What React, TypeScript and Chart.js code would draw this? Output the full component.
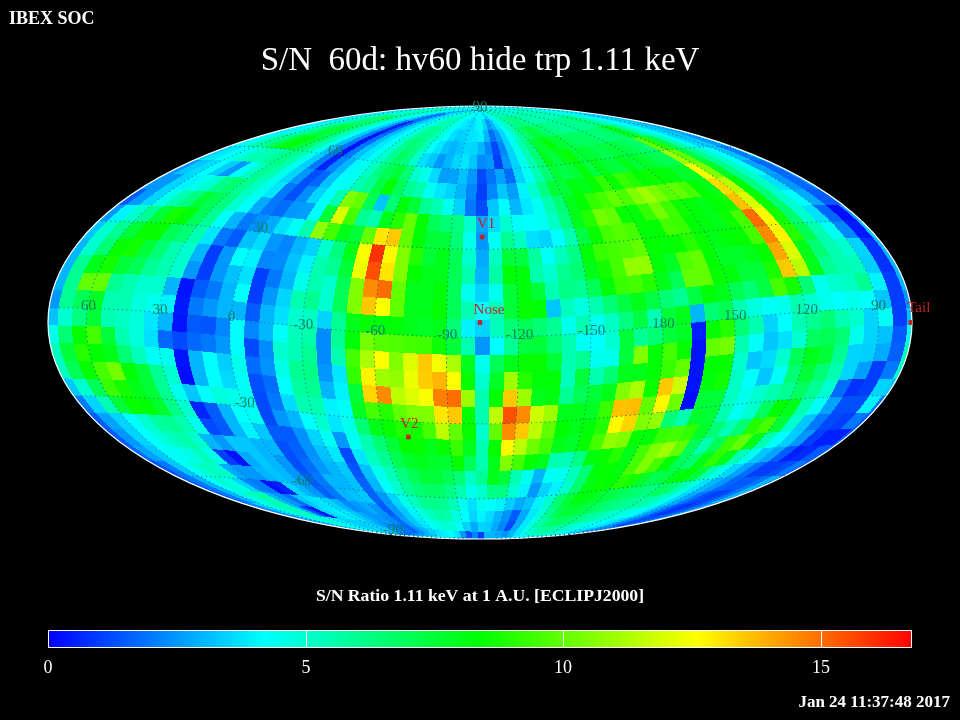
import React, { useEffect, useRef } from "react";
import { Chart, registerables } from "chart.js";
Chart.register(...registerables);

// S/N per 6 x 6 degree ecliptic bin. Each row runs from the left edge of the map to its right edge.
const lat87 = [3.5,3.6,3.8,4,4.2,4.5,4.7,4.8,4.8,4.6,4.4,4,3.6,3,3,3.4,3.8,4.1,4.4,4.6,4.8,4.9,4.9,4.7,4.5,4.3,4.1,4,4,4.2, 4.5,4.2,3.6,3.6,4,4.4,4.8,5,5.2,5.4,5.5,5.4,5.3,5.2,5.1,5,5,5,4.9,4.9,4.9,4.8,4.8,4.7,4.5,4.3,4.1,3.9,3.7,3.6];
const lat81 = [3.4,3.6,4,4.4,4.8,5.2,5.5,5.5,5.3,4.8,4.4,3.8,3,1.8,2,3,3.6,4,4.5,5,5.3,5.5,5.3,4.8,4.4,4,3.8,3.6,3.6,4, 4.5,3.5,2.5,3,3.8,4.5,5,5.5,6,6,6.5,6.2,6,5.8,5.7,5.5,5.5,5.5,5.5,5.5,5.5,5.5,5.5,5.3,5,4.7,4.3,4,3.8,3.7];
const lat75 = [3.6,3.8,4.4,5,5.6,6.3,6.6,6.6,6,5,4.4,3.5,2.3,.5,1.6,3,3.7,4.2,4.8,5.6,6,6,5.5,4.8,4.2,3.7,3.4,3.5,3.7,3.8, 4,3,1.8,2.5,3.5,4.3,5,6,6.5,7,7.5,7,6.5,6.5,6.2,6,6,6,6,6,6,6.2,6.5,6.2,5.5,4.8,4.2,3.8,3.5,3.2];
const lat69 = [3.8,4,4.6,5.4,6.3,7.2,7.6,7.2,6.3,5.2,4.4,3.3,2.1,.3,1.8,3.1,3.8,4.3,5,6,6.5,6.2,5.3,4.3,3.8,3.2,3,3.3,3.6,3.5, 3,2.2,1.2,2.2,3.5,4.5,5.5,6.3,7.5,7.7,8.4,7.6,7.5,7.2,6.8,6.8,6.8,6.7,6.5,6.5,6.4,6.7,8,7.5,6,5,4.2,3.7,3.3,2.8];
const lat63 = [4.3,4.5,5.5,6,7,8,8.3,7.5,6.5,5.5,4.5,3.2,2,.3,2,3.2,3.8,4.4,5,6,6.8,6.3,5,3.7,3.3,2.5,3,3.5,3.8,3.3, 2.3,2.5,1,2.5,3.5,4.5,5.5,6.5,8,7.3,8,8.5,7.5,7.6,7.5,7,7.3,7.5,7.3,7,6.8,6.5,10,9,7,5.5,4.5,3.5,3.3,2.5];
const lat57 = [3.5,3.8,4.3,4.5,5.2,5.5,5.5,6,6.2,5.5,4.5,3.4,2,.6,2.2,3,4.1,4.5,5.2,6.3,7,7.5,6.5,5,4.5,3.6,2.6,2.7,3.2,2.5, 1.2,1.9,2.7,1.8,3.5,4.3,5.5,6.5,7.5,7.2,7.5,8.2,7.5,8,7.6,7.3,8,7.6,7.8,7.4,7,7,11,10,7.3,6,5,4.2,3.2,2];
const lat51 = [2.5,3.3,3.6,4.2,3.4,2.5,4.2,5.2,6,5.5,4.5,3.5,2.5,1.3,1.7,3.2,4.2,4.5,5.5,6,7.3,8.5,7,6,5.5,4.4,3.8,3.5,3,2.2, 1,2.2,3.3,2.6,4,5,6.2,7.5,7.5,8.2,8,8.5,9.2,8.5,9.3,9,8.3,8.6,8.3,8.2,7.6,7.8,12.5,10.5,7.8,6.2,5.2,4.3,2.7,1.7];
const lat45 = [2.5,2.5,3.5,4,4.5,5,6.2,6.5,6,5.2,4.5,3.8,2,1.3,2.3,3.5,4.2,5.5,10.5,10,7,3.3,6.5,8.2,7.5,6,5.5,4.5,3.5,2, 1.2,3.3,4.2,3,3.8,4.4,5.5,6.5,8,8.4,9.2,9.5,10,9.6,10.5,11,10.4,9.8,10,9.5,8.4,8,13.2,11.5,8.3,6.3,5.2,3.7,2.5,1.7];
const lat39 = [1.5,2.5,3.5,4.5,5.5,6.3,7.5,7,6.3,5,4.2,2.8,2,1.8,2.5,2.6,4.3,7.5,12,9.5,6,5.5,8,9,10,8.5,7,6.5,6.3,5, 2.8,3.6,5,4.3,4.2,4.4,5.2,6.3,8,9,10.3,10,8.5,8.3,9.3,10.3,9.4,8.6,8.3,8,8.3,8.6,13.6,12,8.5,6.5,5,4.2,2.8,1.5];
const lat33 = [2.5,4,5,6,7.5,8.7,8.3,7,6,4.3,3,2,2.4,2.8,3.7,4.3,5.5,10.7,9.5,8,7.5,10,13,13.5,10,8.3,7.5,7.5,6.5,4.5, 2.5,4.3,6,5.2,3.7,3.5,4.2,5.5,7.3,8.5,9.5,9.8,9.5,8.3,8.4,9.5,9.3,8.3,8.2,8,8.6,9.5,15,12.7,8.7,6.6,5,3.7,1.7,.2];
const lat27 = [3.3,5,6,7.5,8.5,8.5,7,6.5,5.5,3.8,2,1.5,3.2,3.6,2.5,2.2,3,3.5,5,6.3,8,12.5,16,12.7,10.5,9,7.5,8,7,5, 2.8,5.2,7.5,7.3,5.8,4.3,5.3,6.2,8.3,9.3,9.5,9.6,10,8.5,8.3,8.5,9,8.5,8,8.3,8.5,9.5,14.5,12.8,9,7,5.5,4.4,2.2,.4];
const lat21 = [3,5,6.5,8.5,8.7,7.5,6.5,5.5,5,3,1,2.5,4.2,4,2.2,2.3,3.2,4,5.5,6,7.5,12.3,15.5,13,10.5,8.5,8,8,7,5.5, 3,5.7,8.3,8.2,5.6,5,6,6.5,8,8.7,9.5,10.8,10.8,8.3,7.8,9.7,10,8.4,7.8,7.7,8,8.4,14,12,8,6.5,5.5,5,3.5,.8];
const lat15 = [3,6,8,8.7,7.5,7,6,5.5,5,2.5,1,2.5,3.2,3.7,1,2,3,4.5,5.5,5,7,10.5,14.5,15,10,8,8,8.3,7,4.5, 3.5,4.5,7.5,8.2,7.5,5.5,6.2,6,7,8.3,9.3,9.5,9,8,7,10,10,8.5,8.2,7.5,7.5,8.8,13.5,11.5,8,6,5.5,5.3,3.4,.8];
const lat9 = [3,6,10,10,6,5.5,5,5,3,.3,1.5,2,3,4.2,1,2.5,3.5,5.5,6,5,7,10.5,13.5,12.6,10,8,8,8.5,7,5.5, 4.3,5.5,7.5,8.5,8.3,3.3,5.3,4.7,5.5,6.5,7.3,8,7.3,6.5,6,7.3,8.3,8,7,6.5,7.3,9.5,8.7,6.5,4.5,5,5.2,6,4,1];
const lat3 = [2.5,6,7,7.8,5.5,5.5,4.8,4.5,4,.4,2,2.5,3,3,1.5,3,3.7,5,5.2,3.5,6,8,8.5,8.3,8.3,8,7.8,8,6.5,4, 3.5,5.3,6.5,7,6.5,6,4.5,5.5,4.5,5.2,6.3,7.3,5.5,7.5,8,3,6.5,7,5.5,4.7,4.3,4.5,5.5,5,4.5,4.2,4.5,4.2,3.3,1];
const latM3 = [3.2,5,6.3,7.5,5.5,5.2,4.8,3.8,3,.3,1.5,1.4,2.2,4.2,2.2,3,4.3,5.3,5.6,2.3,6,8.3,10.3,9.8,9.7,9.5,9.4,8.6,7.5,5.5, 2.5,4.2,6,7.3,7.5,6.5,5.5,4.3,4.2,5,7.5,6,6.5,7.5,7.8,.5,8.5,9,6.5,5.5,3.5,4.2,5.5,6,6.5,5.5,5,3.5,4.3,1];
const latM9 = [4.5,6.5,8.5,9.5,7.5,5.5,4.8,3.7,1.7,1.2,1.7,2,2.5,4.2,1.2,2.3,5,5.4,6,2.3,5.5,9.5,11.2,12.6,10.5,12,13.5,12.4,11.2,8, 4.5,7,8,8.5,8.5,7.5,5.5,6,4.5,4.5,7.5,10.5,8.3,9.5,8.5,.3,10,10.3,5.5,4.3,3.3,3.7,5,6.8,7,6.5,4.5,3.5,3.2,1.5];
const latM15 = [5.3,7.5,9,8.4,8,6.5,5.3,4.3,4.5,.3,3,4.2,3.4,4.5,1.8,2.4,4.6,6,6.2,2.5,3.8,9.2,12.8,11,10.8,12.3,13.4,13.8,12.6,8.5, 5,7.8,11,9,8.3,8.3,5.3,7.5,5.5,6.5,8,8,8.3,9.3,10,.3,8.4,8.5,5,3.3,3.6,5,7,8,7.5,6,3.5,3.4,2.8,1.6];
const latM21 = [5.2,7,8.5,9.5,10.3,8.3,7.5,6,5,.2,3,4.2,3.6,4.3,1.3,1.8,4.2,5.8,6,3,4,7.5,13.3,14.5,11.5,12,12.5,14.7,15,11, 5.5,8.5,13.5,11,8,8.2,6,7,7.5,8,10.5,11.2,8.6,13.5,11.8,.3,8.2,8.7,5.2,4.2,3.3,4.3,6.5,7.5,6.5,5.5,3.5,2.6,1,2];
const latM27 = [3.3,5,7,9.3,8.7,8,7.5,6,4.5,3.3,4.3,4.8,4.6,4.4,1.2,2,3.6,5.5,5.5,4,4.3,7.8,9.5,9,10,10.5,10.5,13,13.5,8.5, 5.5,11.5,15.5,14.5,11.8,11,8,8,7.8,9.3,13.6,13.7,10,12.7,10.2,.2,7.5,7.5,5.2,4.5,5,5.5,6,6.8,6,5,1.8,.8,1,3.5];
const latM33 = [2,3.5,5.5,7.5,8.5,8.4,7.7,6.2,5,.6,1.5,3,4.2,4.4,1.2,2.5,3,4.2,5,3.8,4.5,6.5,8,8.5,9,8.7,9.5,11.5,10,8.5, 5,10,14.5,13.5,11.5,10,8.4,8,8.3,9,12.7,13.3,10.5,10.8,6.5,5.5,7.7,7.5,5.5,4.4,5,6.8,8.4,8,5.5,4.3,2.7,1.3,1.3,4];
const latM39 = [1.5,2.7,3.5,4.3,5,5.8,6,5.5,4.5,1.2,1.5,3,4,3.3,1.5,1.5,2.4,3.5,4.4,2.5,4.4,5.5,6.5,7.5,8.4,8.5,8,8.5,9.3,8, 5.5,8.5,12.7,11.5,10.2,9.5,8,7.7,8.5,9.5,10.8,10.5,8.5,8.3,9.3,9.5,9.2,7.7,6.5,5.5,6.5,9,9.5,7.5,5,3.3,2,1.2,1,2];
const latM45 = [1.5,2.5,3.5,4.2,4.8,5.3,5.6,5,3,2.5,3.3,3.3,3,3,1.3,1.6,2.4,3.2,3.8,1.2,3.8,5.2,6,7,7.7,8,7.7,7.6,8.5,7, 5.5,8,10.5,9.5,8.5,8,5.5,5.4,6.2,8.2,8.5,9,8,9.5,10.5,11,10,7,5.5,7,9.3,10,8,5.5,4.2,3.4,2.5,1,.5,.5];
const latM51 = [1.7,2.7,3.3,4.3,4.4,4.7,5.3,4.5,1,.3,2.8,3.3,3,2.5,1.3,1.8,2.5,3,3.3,1.4,3.2,4.5,5.3,6.3,7,7.5,7.5,7,6.5,5.2, 6,8,7.5,5.5,4.5,3,4.3,4.5,5.3,6.5,8.3,8.5,8.2,9.5,10.5,9.5,8.3,7,6.5,8,9.2,8,5.5,4.5,3.3,2.7,1.5,.5,.7,1.5];
const latM57 = [1.3,2,3.3,4.3,5,5.3,5,2.8,2.5,2.5,3,3.2,3,2.5,1.5,2,3,3,3.2,1.6,3,4.2,5,6,6.5,6.7,6.7,6.2,5.5,4.5, 5,6.2,6.3,5,4,2.5,3.5,4,5,6.5,8,8.5,8.4,9,8.7,7.7,7,7.3,8,8.3,7.5,5.5,4.5,3.5,2.7,1.8,1,1,1.3,2];
const latM63 = [1.5,2,3,4.2,5,4.5,3.5,2.2,2,.3,.6,3.5,3,2.5,1.6,2,3,3.2,3.3,1.6,2.5,3.5,4.6,5.3,6,6.2,6,5.4,4.5,3.7, 4.5,4.2,4,3.4,2.8,3.2,4,5,6.5,7.5,8.2,8,7.7,7.3,7,6.7,6.5,6.3,6.8,6.5,5.5,4.7,3.7,3,2.5,1.7,1.5,1.5,2,3];
const latM69 = [1.5,2,3,4,5,5.5,5.5,3,2.5,1.8,3.3,3.7,3.8,3.5,3,2.3,2.5,2.8,2.5,1.5,2.5,3.3,4,4.7,5.3,5.7,5.5,4.7,4.2,3.5, 4,3.6,3,2.4,1.5,2.8,3.8,4.8,6,7,7.6,7.5,7.2,6.8,6.5,6.3,6,5.8,5.8,5.5,5,4.5,3.5,2.8,2,1.3,1,1.2,2,3];
const latM75 = [1.5,2.5,3.5,4.5,5,5.5,5.2,3,1.2,.3,3.5,3.8,4,3.8,3.3,2.8,2.5,2.5,2.3,1.8,2.7,3.3,3.8,4.3,4.7,5,4.8,4.2,3.5,2.8, 3.5,3.4,2.8,2.2,1.2,2.8,3.8,4.7,5.6,6.3,6.8,6.8,6.5,6.2,5.8,5.6,5.3,5,4.8,4.6,4.4,4,3.2,2.5,1.6,1,.8,1.2,1.8,2.6];
const latM81 = [1.4,2.2,3.2,4,4.6,5,4.8,4.4,4,3.6,3.4,3.4,3.5,3.5,3.1,2.6,2.2,2,2,1.6,2.4,3,3.4,3.8,4,4.2,3.8,2.5,1.2,2.2, 1,3,3,2.8,2.4,3,3.8,4.5,5,5.5,5.8,5.8,5.6,5.3,5,4.8,4.6,4.4,4.2,4,3.8,3.5,3,2.4,1.8,1.3,1.2,1.4,1.8,2.4];
const latM87 = [2,2.4,3,3.5,4,4.3,4.3,4,3.8,3.6,3.4,3.4,3.4,3.3,3,2.6,2.2,1.8,1.8,2.1,2.6,3,3.3,3.6,3.8,3.9,3.6,3,2.4,2.8, 1,3.2,3.4,3.4,3.5,3.8,4,4.3,4.6,4.8,5,5,4.9,4.7,4.5,4.3,4.1,4,3.8,3.6,3.4,3.2,2.9,2.6,2.3,2,1.9,1.9,2.1,2.4];
const snRows = [lat87,lat81,lat75,lat69,lat63,lat57,lat51,lat45,lat39,lat33,lat27,lat21,lat15,lat9,lat3,latM3,latM9,latM15,latM21,latM27,latM33,latM39,latM45,latM51,latM57,latM63,latM69,latM75,latM81,latM87];

const cbTicks = [0, 5, 10, 15];
const cbMax = 16.77;
const lonLabels = ["60","30","0","-30","-60","-90","-120","-150","180","150","120","90"];
const lonLabelValues = [60,30,0,-30,-60,-90,-120,-150,180,150,120,90];
const latLabels = ["90","60","30","-30","-60","-90"];
const latLabelValues = [90,60,30,-30,-60,-90];
const latLabelOffsets = [[0,-4],[1,-4],[1,-4],[1,-3],[1,-3],[2,-4]];
const probes = [
  { name: "V1", lon: 255, lat: 34.3, dx: 4, dy: -13 },
  { name: "V2", lon: 289, lat: -35.7, dx: 1, dy: -13 },
  { name: "Nose", lon: 256, lat: 5, dx: 9, dy: -12 },
  { name: "Tail", lon: 76.5, lat: -5, dx: 8, dy: -14 },
];

const CENTER = 256, TILT = 5 * Math.PI / 180;
const RAD = Math.PI / 180;
function project(lon: number, lat: number) {
  const l = (CENTER - lon) * RAD, p = lat * RAD;
  const x = Math.cos(p) * Math.cos(l), y = Math.cos(p) * Math.sin(l), z = Math.sin(p);
  const x2 = x * Math.cos(TILT) + z * Math.sin(TILT), z2 = -x * Math.sin(TILT) + z * Math.cos(TILT);
  const lam = Math.atan2(y, x2), phi = Math.asin(Math.max(-1, Math.min(1, z2)));
  let th = phi;
  if (Math.abs(phi) <= 1.5707) for (let i = 0; i < 40; i++) th -= (2 * th + Math.sin(2 * th) - Math.PI * Math.sin(phi)) / (2 + 2 * Math.cos(2 * th));
  return { x: (lam / Math.PI) * Math.cos(th), y: Math.sin(th) };
}
function unproject(xn: number, yn: number) {
  const th = Math.asin(yn);
  const phi = Math.asin(Math.max(-1, Math.min(1, (2 * th + Math.sin(2 * th)) / Math.PI)));
  const lam = Math.PI * xn / Math.cos(th);
  const x2 = Math.cos(phi) * Math.cos(lam), y = Math.cos(phi) * Math.sin(lam), z2 = Math.sin(phi);
  const x = x2 * Math.cos(TILT) - z2 * Math.sin(TILT), z = x2 * Math.sin(TILT) + z2 * Math.cos(TILT);
  return { l: Math.atan2(y, x) / RAD, b: Math.asin(Math.max(-1, Math.min(1, z))) / RAD };
}
function snColor(v: number): [number, number, number] {
  const t = Math.max(0, Math.min(1, v / 16.8)) * 4;
  if (t < 1) return [0, Math.round(255 * t), 255];
  if (t < 2) return [0, 255, Math.round(255 * (2 - t))];
  if (t < 3) return [Math.round(255 * (t - 2)), 255, 0];
  return [255, Math.round(255 * (4 - t)), 0];
}
function cellAt(xn: number, yn: number) {
  const { l, b } = unproject(xn, yn);
  const k = ((Math.round((l + 180 - 1) / 6) % 60) + 60) % 60;
  const r = Math.max(0, Math.min(29, Math.floor((90 - b) / 6)));
  return snRows[r][k];
}
function path(points: [number, number][]) {
  const out: { x: number; y: number }[] = [];
  let last: { x: number; y: number } | null = null;
  for (const [lon, lat] of points) {
    const q = project(lon, lat);
    if (last && Math.abs(q.x - last.x) > 0.3) out.push({ x: NaN, y: NaN });
    out.push(q); last = q;
  }
  return out;
}
const graticule: { x: number; y: number }[][] = [];
for (const lon of lonLabelValues) { const p: [number, number][] = []; for (let b = -90; b <= 90; b += 1) p.push([lon, b]); graticule.push(path(p)); }
for (const lat of [-60, -30, 0, 30, 60]) { const p: [number, number][] = []; for (let l = 0; l <= 360; l += 1) p.push([l, lat]); graticule.push(path(p)); }

const SERIF = '"Liberation Serif"';
const LABEL = "#0f7f6a", RED = "#c32222";
const mapPlugin = {
  id: "map",
  beforeDraw(c: any) { const g = c.ctx; g.save(); g.fillStyle = "#000"; g.fillRect(0, 0, c.width, c.height); g.restore(); },
  beforeDatasetsDraw(c: any) {
    const g = c.ctx, sx = c.scales.x, sy = c.scales.y, a = c.chartArea;
    const w = Math.round(a.right - a.left), h = Math.round(a.bottom - a.top);
    const off = document.createElement("canvas"); off.width = w; off.height = h;
    const octx = off.getContext("2d")!; const img = octx.createImageData(w, h);
    for (let j = 0; j < h; j++) {
      const yn = sy.getValueForPixel(a.top + j + 0.5);
      for (let i = 0; i < w; i++) {
        const xn = sx.getValueForPixel(a.left + i + 0.5);
        if (xn * xn + yn * yn >= 1) continue;
        const col = snColor(cellAt(xn, yn)); const o = (j * w + i) * 4;
        img.data[o] = col[0]; img.data[o + 1] = col[1]; img.data[o + 2] = col[2]; img.data[o + 3] = 255;
      }
    }
    octx.putImageData(img, 0, 0);
    g.save(); g.imageSmoothingEnabled = false; g.drawImage(off, a.left, a.top);
    g.strokeStyle = "#fff"; g.lineWidth = 1.2; g.beginPath();
    g.ellipse(sx.getPixelForValue(0), sy.getPixelForValue(0), (a.right - a.left) / 2, (a.bottom - a.top) / 2, 0, 0, 2 * Math.PI); g.stroke();
    g.restore();
  },
  afterDatasetsDraw(c: any) {
    const g = c.ctx, sx = c.scales.x, sy = c.scales.y, cb = c.scales.cb, a = c.chartArea;
    g.save(); g.textAlign = "center"; g.textBaseline = "middle";
    g.fillStyle = LABEL; g.font = `15px ${SERIF}`;
    lonLabels.forEach((t, i) => { const q = project(lonLabelValues[i], 0); g.fillText(t, sx.getPixelForValue(q.x) + 1, sy.getPixelForValue(q.y) - 2); });
    latLabels.forEach((t, i) => { const q = project(0, latLabelValues[i]); g.fillText(t, sx.getPixelForValue(q.x) + latLabelOffsets[i][0], sy.getPixelForValue(q.y) + latLabelOffsets[i][1]); });
    g.fillStyle = RED; g.font = `15px ${SERIF}`;
    for (const p of probes) { const q = project(p.lon, p.lat); g.fillText(p.name, sx.getPixelForValue(q.x) + p.dx, sy.getPixelForValue(q.y) + p.dy); }
    g.fillStyle = "#fff";
    g.font = `33px ${SERIF}`; g.fillText("S/N  60d: hv60 hide trp 1.11 keV", 480, 61);
    g.font = `bold 17.7px ${SERIF}`; g.fillText("S/N Ratio 1.11 keV at 1 A.U. [ECLIPJ2000]", 480, 596);
    g.font = `bold 18px ${SERIF}`; g.textAlign = "left"; g.fillText("IBEX SOC", 9, 19);
    g.font = `bold 17px ${SERIF}`; g.textAlign = "right"; g.fillText("Jan 24 11:37:48 2017", 950, 703);
    const top = 630, bot = 648;
    for (let X = Math.round(a.left); X < a.right; X++) { const col = snColor(cb.getValueForPixel(X + 0.5)); g.fillStyle = `rgb(${col[0]},${col[1]},${col[2]})`; g.fillRect(X, top, 1, bot - top); }
    g.strokeStyle = "#fff"; g.lineWidth = 1; g.strokeRect(a.left + 0.5, top + 0.5, a.right - a.left - 1, bot - top - 1);
    g.textAlign = "center"; g.fillStyle = "#fff"; g.font = `18px ${SERIF}`;
    for (const t of cbTicks) {
      const X = Math.round(cb.getPixelForValue(t));
      if (t > 0) { g.fillRect(X, top, 1, bot - top); }
      g.fillText(String(t), X, 668);
    }
    g.restore();
  },
};

export default function App() {
  const ref = useRef<HTMLCanvasElement>(null);
  useEffect(() => {
    const cells: { x: number; y: number; v: number }[] = [];
    snRows.forEach((row, r) => row.forEach((v, k) => { const q = project(CENTER - (-180 + 6 * k + 1), 87 - 6 * r); cells.push({ x: q.x, y: q.y, v }); }));
    const datasets: any[] = [{ label: "S/N", data: cells, pointRadius: 0, showLine: false }];
    for (const line of graticule) datasets.push({ data: line, showLine: true, spanGaps: false, pointRadius: 0, borderColor: "#07607c", borderWidth: 1, borderDash: [1, 3.5] });
    datasets.push({ label: "probes", data: probes.map((p) => project(p.lon, p.lat)), showLine: false, pointStyle: "rect", pointRadius: 2.6, backgroundColor: RED, borderColor: RED });
    const chart = new Chart(ref.current!, {
      type: "scatter", data: { datasets }, plugins: [mapPlugin as any],
      options: {
        animation: false, responsive: false,
        layout: { padding: { left: 48, right: 48, top: 106, bottom: 181 } },
        plugins: { legend: { display: false }, tooltip: { enabled: false }, title: { display: false } },
        scales: {
          x: { min: -1, max: 1, display: false },
          y: { min: -1, max: 1, display: false },
          cb: { type: "linear", axis: "x", min: 0, max: cbMax, display: false } as any,
        },
      },
    });
    return () => chart.destroy();
  }, []);
  return <canvas ref={ref} width={960} height={720} style={{ position: "fixed", left: 0, top: 0, width: 960, height: 720, background: "#000" }} />;
}
